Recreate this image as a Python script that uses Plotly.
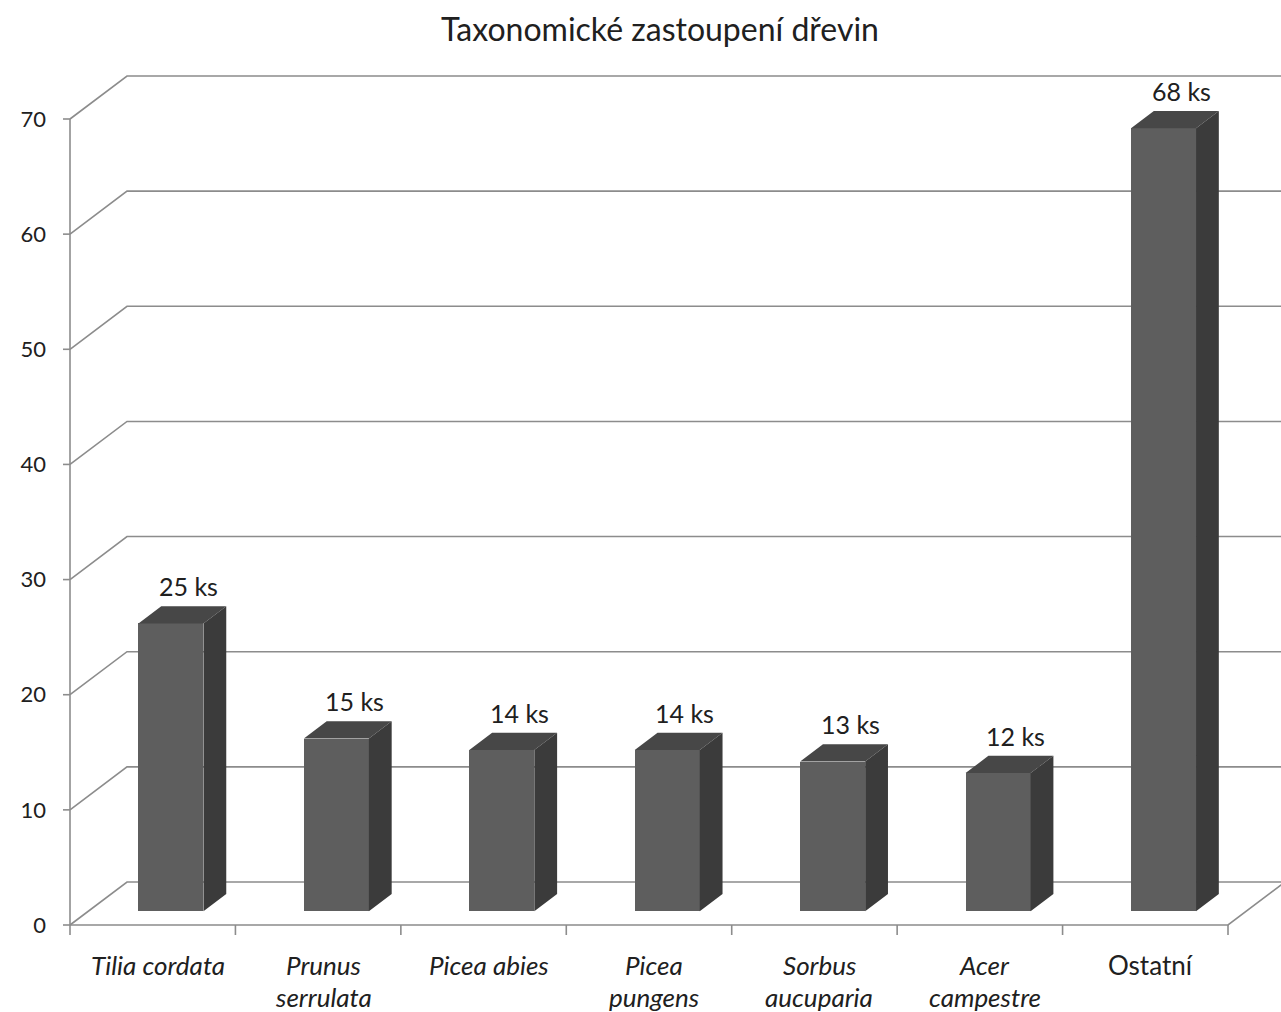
import plotly.graph_objects as go

# ---- data -------------------------------------------------------------
chart_title = "Taxonomické zastoupení dřevin"
species = ["Tilia cordata", "Prunus serrulata", "Picea abies", "Picea pungens",
           "Sorbus aucuparia", "Acer campestre", "Ostatní"]
counts = [25, 15, 14, 14, 13, 12, 68]
category_labels = ["<i>Tilia cordata</i>", "<i>Prunus</i><br><i>serrulata</i>",
                   "<i>Picea abies</i>", "<i>Picea</i><br><i>pungens</i>",
                   "<i>Sorbus</i><br><i>aucuparia</i>", "<i>Acer</i><br><i>campestre</i>",
                   "Ostatní"]
y_ticks = [0, 10, 20, 30, 40, 50, 60, 70]
unit = "ks"

# ---- page geometry (pixels) -------------------------------------------
W, H = 1281, 1012
PLOT_L, PLOT_R = 50, 1281          # plot area edges
PLOT_T, PLOT_B = 55, 945
AXIS_X0, AXIS_X1 = 70, 1228        # front x-extent of the category axis
AXIS_Y0, AXIS_Y70 = 925, 119       # pixel rows of value 0 and 70
DEPTH_PX = (57, 43)                # oblique offset of the back wall

n = len(species)
PXU = (AXIS_X1 - AXIS_X0) / n                     # px per category
PYU = (AXIS_Y0 - AXIS_Y70) / 70.0                 # px per value unit
xmin = -0.5 - (AXIS_X0 - PLOT_L) / PXU
xmax = xmin + (PLOT_R - PLOT_L) / PXU
ymin = -(PLOT_B - AXIS_Y0) / PYU
ymax = (AXIS_Y0 - PLOT_T) / PYU
DX = DEPTH_PX[0] / PXU
DY = DEPTH_PX[1] / PYU

# bar placement inside the depth of the wall
D0, D1 = 0.32, 0.72
BAR_W = 65 / PXU
ddx, ddy = (D1 - D0) * DX, (D1 - D0) * DY

GRID = "#8c8c8c"
TEXT = "#202020"
FONT = "Lato"

fig = go.Figure()

# front faces of the bars
fig.add_trace(go.Bar(
    x=[i + D0 * DX for i in range(n)], y=counts, base=[D0 * DY] * n,
    width=BAR_W, marker=dict(color="#5e5e5e", line=dict(width=0)),
    hoverinfo="skip", showlegend=False,
))

# top and side faces
top_x, top_y, side_x, side_y = [], [], [], []
for i, v in enumerate(counts):
    xl = i - BAR_W / 2 + D0 * DX
    xr = i + BAR_W / 2 + D0 * DX
    yb = D0 * DY
    yt = v + D0 * DY
    top_x += [xl, xr, xr + ddx, xl + ddx, xl, None]
    top_y += [yt, yt, yt + ddy, yt + ddy, yt, None]
    side_x += [xr, xr, xr + ddx, xr + ddx, xr, None]
    side_y += [yb, yt, yt + ddy, yb + ddy, yb, None]

fig.add_trace(go.Scatter(x=top_x, y=top_y, mode="lines", fill="toself",
                         fillcolor="#474747", line=dict(width=0, color="#474747"),
                         hoverinfo="skip", showlegend=False))
fig.add_trace(go.Scatter(x=side_x, y=side_y, mode="lines", fill="toself",
                         fillcolor="#3b3b3b", line=dict(width=0, color="#3b3b3b"),
                         hoverinfo="skip", showlegend=False))

# walls: gridlines on the side and back walls, floor, axes and ticks
shapes = []
left = -0.5
right = n - 0.5
for v in y_ticks:
    path = f"M{left},{v} L{left + DX},{v + DY} L{right + DX + 1},{v + DY}"
    shapes.append(dict(type="path", path=path, xref="x", yref="y", layer="below",
                       line=dict(color=GRID, width=1.6)))
# floor front edge and right edge
shapes.append(dict(type="path", xref="x", yref="y", layer="below",
                   path=f"M{left},0 L{right},0 L{right + DX},{DY}",
                   line=dict(color=GRID, width=1.6)))
# value axis line with tick marks
tick_len_x = 7 / PXU
shapes.append(dict(type="line", xref="x", yref="y", layer="below",
                   x0=left, x1=left, y0=0, y1=y_ticks[-1],
                   line=dict(color=GRID, width=1.6)))
for v in y_ticks:
    shapes.append(dict(type="line", xref="x", yref="y", layer="below",
                       x0=left - tick_len_x, x1=left, y0=v, y1=v,
                       line=dict(color=GRID, width=1.6)))
# category axis tick marks at slot boundaries
tick_len_y = 10 / PYU
for k in range(n + 1):
    xb = k - 0.5
    shapes.append(dict(type="line", xref="x", yref="y", layer="below",
                       x0=xb, x1=xb, y0=0, y1=-tick_len_y,
                       line=dict(color=GRID, width=1.6)))

annotations = []
# value labels above the bars
for i, v in enumerate(counts):
    annotations.append(dict(x=i + 0.63 * DX, y=v + D1 * DY, xref="x", yref="y",
                            text=f"{v} {unit}", showarrow=False, yanchor="middle",
                            yshift=20, font=dict(family=FONT, size=25, color=TEXT)))
# category labels
LINE_GAP = 32
for i, lab in enumerate(category_labels):
    for j, line in enumerate(lab.split("<br>")):
        annotations.append(dict(x=i, y=0, xref="x", yref="y", text=line,
                                showarrow=False, yanchor="middle",
                                xshift=5, yshift=-(40 + j * LINE_GAP),
                                font=dict(family=FONT, size=26, color=TEXT)))

fig.update_layout(
    width=W, height=H,
    margin=dict(l=PLOT_L, r=W - PLOT_R, t=PLOT_T, b=H - PLOT_B, pad=0),
    paper_bgcolor="white", plot_bgcolor="white",
    title=dict(text=chart_title, x=660 / W, xref="container", xanchor="center",
               y=1 - 30 / H, yref="container", yanchor="middle",
               font=dict(family=FONT, size=32, color=TEXT)),
    xaxis=dict(range=[xmin, xmax], showgrid=False, zeroline=False,
               showline=False, showticklabels=False, ticks="", fixedrange=True),
    yaxis=dict(range=[ymin, ymax], showgrid=False, zeroline=False,
               showline=False, tickmode="array", tickvals=y_ticks,
               ticks="", ticklabelstandoff=3,
               tickfont=dict(family=FONT, size=22, color=TEXT), fixedrange=True),
    shapes=shapes, annotations=annotations,
    bargap=0,
)

fig.write_html("out.html")
